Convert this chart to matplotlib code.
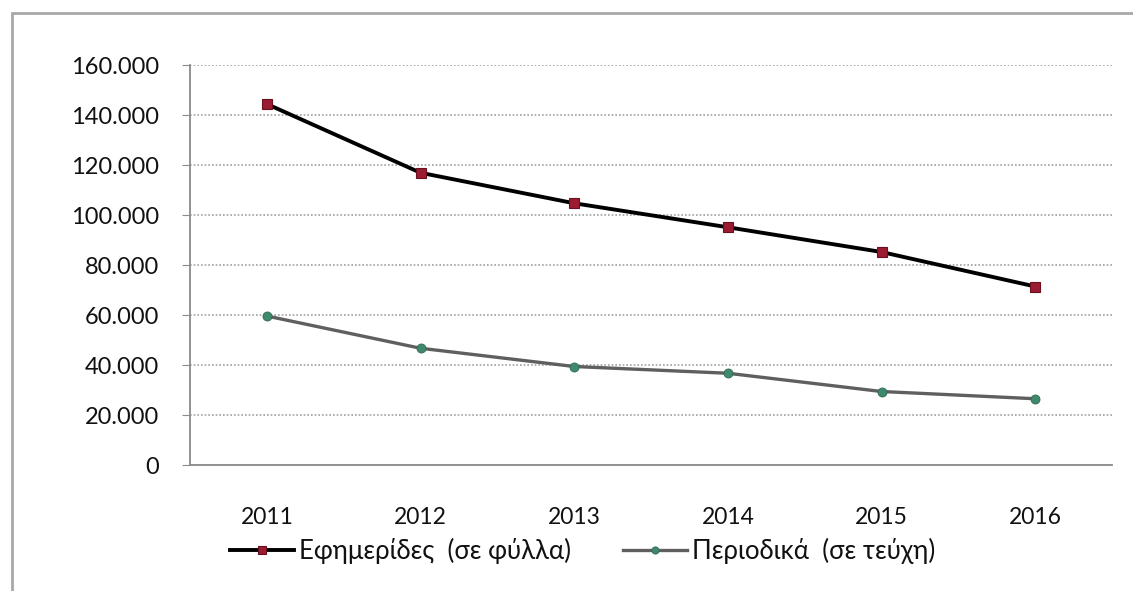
import matplotlib
matplotlib.use("Agg")
import matplotlib.pyplot as plt
from matplotlib.ticker import FuncFormatter, MultipleLocator
from matplotlib.patches import Rectangle

years = ["2011", "2012", "2013", "2014", "2015", "2016"]
newspapers = [144400, 116900, 104700, 95100, 85200, 71400]
magazines = [59600, 46700, 39400, 36700, 29400, 26500]
label_news = "Εφημερίδες  (σε φύλλα)"
label_mag = "Περιοδικά  (σε τεύχη)"

plt.rcParams['font.family'] = ['Lato', 'Open Sans', 'DejaVu Sans']

fig = plt.figure(figsize=(11.33, 5.91), dpi=100)
fig.patches.append(Rectangle((12/1133, -0.05), 1.2, 1 - 13/591 + 0.05, transform=fig.transFigure,
                             fill=False, edgecolor='#a8a8a8', linewidth=2))

ax = fig.add_axes([190/1133, 1 - 465/591, (1112-190)/1133, 400/591])
x = list(range(len(years)))
ax.plot(x, newspapers, color='black', lw=2.8, marker='s', markersize=6.5,
        markerfacecolor='#9b1c30', markeredgecolor='#6a0f1e', markeredgewidth=0.8,
        label=label_news, zorder=3)
ax.plot(x, magazines, color='#5f5f5f', lw=2.4, marker='o', markersize=6.5,
        markerfacecolor='#3f8a6c', markeredgecolor='#2f6a52', markeredgewidth=0.6,
        label=label_mag, zorder=3)

ax.set_xlim(-0.5, 5.5)
ax.set_ylim(0, 160000)
ax.yaxis.set_major_locator(MultipleLocator(20000))
ax.yaxis.set_major_formatter(FuncFormatter(lambda v, p: f"{int(v):,}".replace(",", ".")))
ax.set_xticks(x)
ax.set_xticklabels(years)
ax.grid(axis='y', linestyle=(0, (1, 1.2)), color='#a0a0a0', linewidth=1.2)
ax.set_axisbelow(True)
for s in ['top', 'right']:
    ax.spines[s].set_visible(False)
for s in ['left', 'bottom']:
    ax.spines[s].set_color('#8a8a8a')
    ax.spines[s].set_linewidth(1.3)
ax.tick_params(axis='y', length=6, color='#8a8a8a', labelsize=17, pad=16, labelcolor='#111111')
ax.tick_params(axis='x', length=0, labelsize=16.5, pad=30, labelcolor='#111111')

fig.legend(loc='center left', bbox_to_anchor=(230/1133, 1 - 551/591), ncol=2, frameon=False,
           fontsize=18.5, handlelength=2.5, handletextpad=0.2, columnspacing=2.0,
           markerscale=0.8, labelcolor='#111111', borderaxespad=0, borderpad=0)

fig.savefig("out.png", dpi=100)
